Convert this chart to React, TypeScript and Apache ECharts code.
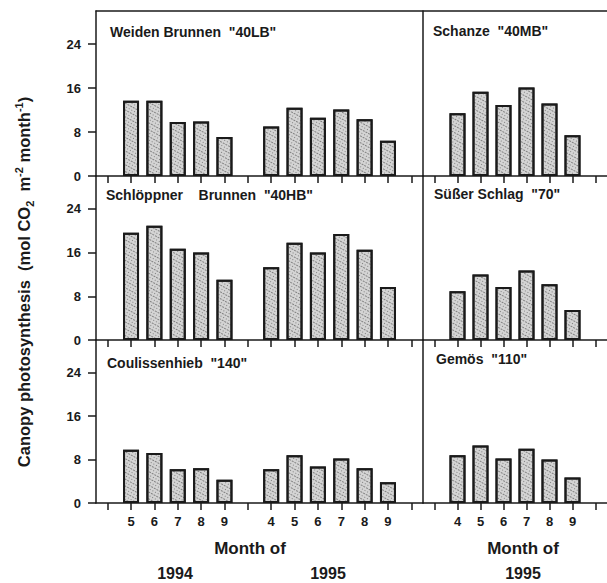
import React, { useEffect, useRef } from "react";
import * as echarts from "echarts";

const leftCats = ["", "5", "6", "7", "8", "9", "", "4", "5", "6", "7", "8", "9", ""];
const rightCats = ["", "4", "5", "6", "7", "8", "9", ""];

const weiden = [null, 13.7, 13.7, 9.8, 9.9, 7.1, null, 9.0, 12.4, 10.6, 12.1, 10.3, 6.4, null];
const schanze = [null, 11.4, 15.3, 12.9, 16.1, 13.2, 7.4, null];
const schloeppner = [null, 19.6, 20.9, 16.7, 16.0, 11.0, null, 13.3, 17.8, 16.0, 19.4, 16.5, 9.7, null];
const suesser = [null, 8.9, 12.0, 9.7, 12.7, 10.2, 5.5, null];
const coulissen = [null, 9.8, 9.2, 6.2, 6.4, 4.3, null, 6.2, 8.8, 6.7, 8.2, 6.4, 3.8, null];
const gemoes = [null, 8.8, 10.6, 8.2, 10.0, 8.0, 4.7, null];

const yTicks = [0, 8, 16, 24];
const panelTitles = [
  'Weiden Brunnen  "40LB"',
  'Schanze  "40MB"',
  'Schlöppner    Brunnen  "40HB"',
  'Süßer Schlag  "70"',
  'Coulissenhieb  "140"',
  'Gemös  "110"',
];

const FONT = "'Liberation Sans', Arial, Helvetica, sans-serif";
const INK = "#1a1a1a";

export default function App() {
  const ref = useRef<HTMLDivElement>(null);
  useEffect(() => {
    if (!ref.current) return;
    const chart = echarts.init(ref.current, null, { renderer: "svg" });
    const rows = [
      { top: 11, height: 165 },
      { top: 176, height: 164 },
      { top: 340, height: 163 },
    ];
    const cols = [
      { left: 96, width: 327, cats: leftCats },
      { left: 423, width: 187, cats: rightCats },
    ];
    const dataSets = [weiden, schanze, schloeppner, suesser, coulissen, gemoes];
    const grids: any[] = [];
    const xAxes: any[] = [];
    const yAxes: any[] = [];
    const series: any[] = [];
    let idx = 0;
    rows.forEach((r, ri) => {
      cols.forEach((c, ci) => {
        grids.push({ left: c.left, top: r.top, width: c.width, height: r.height, containLabel: false });
        xAxes.push({
          type: "category",
          gridIndex: idx,
          data: c.cats,
          boundaryGap: true,
          axisLine: { show: true, lineStyle: { color: INK, width: 1.5 } },
          axisTick: { show: true, alignWithLabel: true, interval: 0, length: 7, lineStyle: { color: INK, width: 1.5 } },
          axisLabel: {
            show: ri === 2,
            interval: 0,
            margin: 12,
            color: INK,
            fontFamily: FONT,
            fontWeight: "bold",
            fontSize: 13,
          },
          splitLine: { show: false },
        });
        yAxes.push({
          type: "value",
          gridIndex: idx,
          min: 0,
          max: 30,
          axisLine: { show: true, lineStyle: { color: INK, width: 1.5 } },
          axisTick: {
            show: ci === 0,
            customValues: yTicks,
            length: 8,
            lineStyle: { color: INK, width: 1.5 },
          },
          axisLabel: {
            show: ci === 0,
            customValues: yTicks,
            margin: 15,
            color: INK,
            fontFamily: FONT,
            fontWeight: "bold",
            fontSize: 13,
          },
          splitLine: { show: false },
        });
        series.push({
          type: "bar",
          xAxisIndex: idx,
          yAxisIndex: idx,
          data: dataSets[idx],
          barWidth: 16,
          itemStyle: {
            color: "#d4d4d4",
            borderColor: INK,
            borderWidth: 2,
            decal: {
              symbol: "rect",
              symbolSize: 1,
              color: "rgba(60,60,60,0.55)",
              dashArrayX: [[1, 2], [2, 1]],
              dashArrayY: [1, 2],
              rotation: 0.5,
            },
          },
        });
        idx++;
      });
    });

    const titlePos = [
      [110, 32],
      [433, 31],
      [106, 195],
      [434, 194],
      [107, 363],
      [436, 359],
    ];
    const graphics: any[] = [
      {
        type: "line",
        shape: { x1: 95.5, y1: 11, x2: 607, y2: 11 },
        style: { stroke: INK, lineWidth: 1.5 },
      },
      ...panelTitles.map((t, i) => ({
        type: "text",
        x: titlePos[i][0],
        y: titlePos[i][1],
        style: {
          text: t,
          fontFamily: FONT,
          fontWeight: "bold",
          fontSize: 14,
          fill: INK,
          textAlign: "left",
          verticalAlign: "middle",
        },
      })),
      ...[
        ["Month of", 250, 548, 17],
        ["1994", 175, 573, 16],
        ["1995", 328, 573, 16],
        ["Month of", 523, 548, 17],
        ["1995", 523, 573, 16],
      ].map(([t, x, y, fs]) => ({
        type: "text",
        x,
        y,
        style: {
          text: t,
          fontFamily: FONT,
          fontWeight: "bold",
          fontSize: fs,
          fill: INK,
          textAlign: "center",
          verticalAlign: "middle",
        },
      })),
      {
        type: "text",
        x: 24,
        y: 282,
        rotation: Math.PI / 2,
        style: {
          text: "{a|Canopy photosynthesis  (mol CO}{b|2}{a|  m}{c|-2}{a| month}{c|-1}{a|)}",
          textAlign: "center",
          verticalAlign: "middle",
          fill: INK,
          rich: {
            a: { fontFamily: FONT, fontWeight: "bold", fontSize: 16.5, lineHeight: 22, fill: INK },
            b: { fontFamily: FONT, fontWeight: "bold", fontSize: 11, lineHeight: 22, verticalAlign: "bottom", fill: INK },
            c: { fontFamily: FONT, fontWeight: "bold", fontSize: 11, lineHeight: 22, verticalAlign: "top", fill: INK },
          },
        },
      },
    ];

    chart.setOption({
      animation: false,
      backgroundColor: "#ffffff",
      grid: grids,
      xAxis: xAxes,
      yAxis: yAxes,
      series,
      graphic: graphics,
    });
    return () => chart.dispose();
  }, []);
  return (
    <div
      ref={ref}
      style={{ position: "fixed", left: 0, top: 0, width: 607, height: 583 }}
    />
  );
}
